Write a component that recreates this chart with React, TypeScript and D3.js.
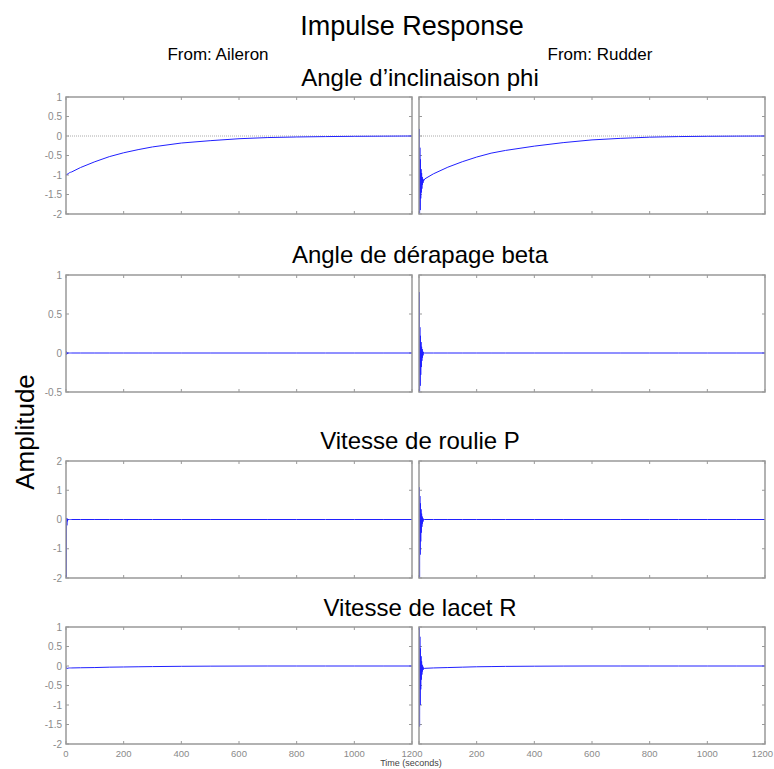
import React from 'react';
import * as d3 from 'd3';

// tick values / labels
const timeTicks = [0, 200, 400, 600, 800, 1000, 1200];
const inputNames = ['From: Aileron', 'From: Rudder'];
const rowTitles = ['Angle d\u2019inclinaison phi', 'Angle de dérapage beta', 'Vitesse de roulie P', 'Vitesse de lacet R'];
const rowDomains: [number, number][] = [[-2, 1], [-0.5, 1], [-2, 2], [-2, 1]];
const rowTicks = [
  [-2, -1.5, -1, -0.5, 0, 0.5, 1],
  [-0.5, 0, 0.5, 1],
  [-2, -1, 0, 1, 2],
  [-2, -1.5, -1, -0.5, 0, 0.5, 1],
];

// sample times (s): fast part right after the impulse, then the slow part
const burstTimes = [0, 1, 2, 3, 4, 5, 6, 7, 8, 9, 10, 11, 12, 13, 14, 15, 16];
const slowTimes = [20, 50, 100, 150, 200, 250, 300, 400, 500, 600, 700, 800, 900, 1000, 1100, 1200];

// phi
const phiAileronBurst = [-1.0, -1.0, -0.99, -0.99, -0.98, -0.98, -0.97, -0.97, -0.96, -0.96, -0.95, -0.95, -0.94, -0.94, -0.93, -0.93, -0.93];
const phiAileronSlow = [-0.92, -0.81, -0.66, -0.53, -0.43, -0.35, -0.28, -0.18, -0.12, -0.07, -0.04, -0.025, -0.015, -0.008, -0.004, 0];
const phiRudderBurst = [0, 0.18, -2.0, -0.3, -1.9, -0.6, -1.6, -0.85, -1.45, -0.95, -1.35, -1.05, -1.25, -1.1, -1.2, -1.12, -1.15];
const phiRudderSlow = [-1.1, -0.97, -0.8, -0.66, -0.54, -0.44, -0.37, -0.26, -0.17, -0.1, -0.06, -0.03, -0.015, -0.007, -0.003, 0];

// beta
const betaAileronBurst = [0, 0.02, -0.02, 0.01, -0.01, 0, 0, 0, 0, 0, 0, 0, 0, 0, 0, 0, 0];
const betaAileronSlow = [0, 0, 0, 0, 0, 0, 0, 0, 0, 0, 0, 0, 0, 0, 0, 0];
const betaRudderBurst = [0, 0.78, -0.5, 0.33, -0.42, 0.22, -0.28, 0.14, -0.18, 0.08, -0.1, 0.05, -0.06, 0.02, -0.03, 0.01, 0];
const betaRudderSlow = [0, 0, 0, 0, 0, 0, 0, 0, 0, 0, 0, 0, 0, 0, 0, 0];

// P
const pAileronBurst = [0, -2.0, 0.05, -0.2, 0.03, -0.06, 0.01, -0.02, 0, 0, 0, 0, 0, 0, 0, 0, 0];
const pAileronSlow = [0, 0, 0, 0, 0, 0, 0, 0, 0, 0, 0, 0, 0, 0, 0, 0];
const pRudderBurst = [0, 1.1, -2.0, 0.8, -1.2, 0.55, -0.75, 0.35, -0.45, 0.2, -0.25, 0.1, -0.14, 0.05, -0.07, 0.02, 0];
const pRudderSlow = [0, 0, 0, 0, 0, 0, 0, 0, 0, 0, 0, 0, 0, 0, 0, 0];

// R
const rAileronBurst = [0, -0.06, -0.05, -0.07, -0.05, -0.06, -0.05, -0.06, -0.05, -0.05, -0.05, -0.05, -0.05, -0.05, -0.05, -0.05, -0.05];
const rAileronSlow = [-0.05, -0.045, -0.04, -0.03, -0.025, -0.02, -0.015, -0.008, -0.004, -0.002, 0, 0, 0, 0, 0, 0];
const rRudderBurst = [0, 1.0, -1.55, 0.75, -1.0, 0.45, -0.6, 0.25, -0.35, 0.12, -0.22, 0.03, -0.14, -0.01, -0.1, -0.04, -0.07];
const rRudderSlow = [-0.06, -0.05, -0.04, -0.03, -0.02, -0.015, -0.01, -0.005, -0.002, 0, 0, 0, 0, 0, 0, 0];

const series = [
  [[phiAileronBurst, phiAileronSlow], [phiRudderBurst, phiRudderSlow]],
  [[betaAileronBurst, betaAileronSlow], [betaRudderBurst, betaRudderSlow]],
  [[pAileronBurst, pAileronSlow], [pRudderBurst, pRudderSlow]],
  [[rAileronBurst, rAileronSlow], [rRudderBurst, rRudderSlow]],
];

const toPoints = (burst: number[], slow: number[]) =>
  burstTimes.map((t, i) => [t, burst[i]] as [number, number])
    .concat(slowTimes.map((t, i) => [t, slow[i]] as [number, number]));

const font = "'Liberation Sans', Arial, Helvetica, sans-serif";
const colX = [66, 419];
const panelW = 346;
const rowY = [97, 275, 461, 627];
const panelH = 117;
const titleY = [86, 263, 449, 616];
const boxColor = '#999';
const tickColor = '#8a8a8a';

const fmt = (v: number) => String(v);

export default function App() {
  const xScale = d3.scaleLinear().domain([0, 1200]).range([0, panelW]);

  return (
    <svg width={774} height={769} style={{ position: 'absolute', left: 0, top: 0, background: '#fff' }} fontFamily={font}>
      <rect width={774} height={769} fill="#fff" />
      <text x={412} y={35} textAnchor="middle" fontSize={27}>Impulse Response</text>
      <text x={218} y={60} textAnchor="middle" fontSize={17}>{inputNames[0]}</text>
      <text x={600} y={60} textAnchor="middle" fontSize={17}>{inputNames[1]}</text>
      <text transform="translate(34,432) rotate(-90)" textAnchor="middle" fontSize={26}>Amplitude</text>

      {rowY.map((top, r) => {
        const yScale = d3.scaleLinear().domain(rowDomains[r]).range([panelH, 0]);
        return (
          <g key={r}>
            <text x={420} y={titleY[r]} textAnchor="middle" fontSize={24}>{rowTitles[r]}</text>
            {colX.map((left, c) => {
              const [burst, slow] = series[r][c];
              const line = d3.line<[number, number]>()
                .x(d => xScale(d[0]))
                .y(d => yScale(d[1]));
              const clipId = `clip-${r}-${c}`;
              // the "0" of the right column sits under the left column's "1200"
              const xLabels = c === 1 ? timeTicks.filter(t => t > 0) : timeTicks;
              return (
                <g key={c} transform={`translate(${left},${top})`}>
                  <defs>
                    <clipPath id={clipId}>
                      <rect x={0} y={0} width={panelW} height={panelH} />
                    </clipPath>
                  </defs>
                  {/* inner ticks on every side */}
                  {timeTicks.map(t => (
                    <g key={'x' + t} stroke={boxColor} strokeWidth={1}>
                      <line x1={xScale(t)} x2={xScale(t)} y1={0} y2={3} />
                      <line x1={xScale(t)} x2={xScale(t)} y1={panelH} y2={panelH - 3} />
                    </g>
                  ))}
                  {rowTicks[r].map(v => (
                    <g key={'y' + v} stroke={boxColor} strokeWidth={1}>
                      <line x1={0} x2={3} y1={yScale(v)} y2={yScale(v)} />
                      <line x1={panelW} x2={panelW - 3} y1={yScale(v)} y2={yScale(v)} />
                    </g>
                  ))}
                  {r === 0 && (
                    <line x1={0} x2={panelW} y1={yScale(0)} y2={yScale(0)} stroke="#aaa" strokeDasharray="1,1" />
                  )}
                  <path
                    d={line(toPoints(burst, slow)) || ''}
                    fill="none"
                    stroke="#2020ff"
                    strokeWidth={1}
                    clipPath={`url(#${clipId})`}
                  />
                  <rect x={0} y={0} width={panelW} height={panelH} fill="none" stroke={boxColor} strokeWidth={1.5} />
                  {c === 0 && rowTicks[r].map(v => (
                    <text key={'yl' + v} x={-4} y={yScale(v)} dy="0.35em" textAnchor="end" fontSize={10} fill={tickColor}>
                      {fmt(v)}
                    </text>
                  ))}
                  {r === 3 && xLabels.map(t => {
                    // keep the last label of the right column inside the page
                    const atEdge = c === 1 && t === 1200;
                    return (
                      <text
                        key={'xl' + t}
                        x={atEdge ? 774 - left - 1 : xScale(t)}
                        y={panelH + 13}
                        textAnchor={atEdge ? 'end' : 'middle'}
                        fontSize={9.5}
                        fill={tickColor}
                      >
                        {fmt(t)}
                      </text>
                    );
                  })}
                </g>
              );
            })}
          </g>
        );
      })}

      <text x={411} y={766} textAnchor="middle" fontSize={9} fill="#444">Time (seconds)</text>
    </svg>
  );
}
